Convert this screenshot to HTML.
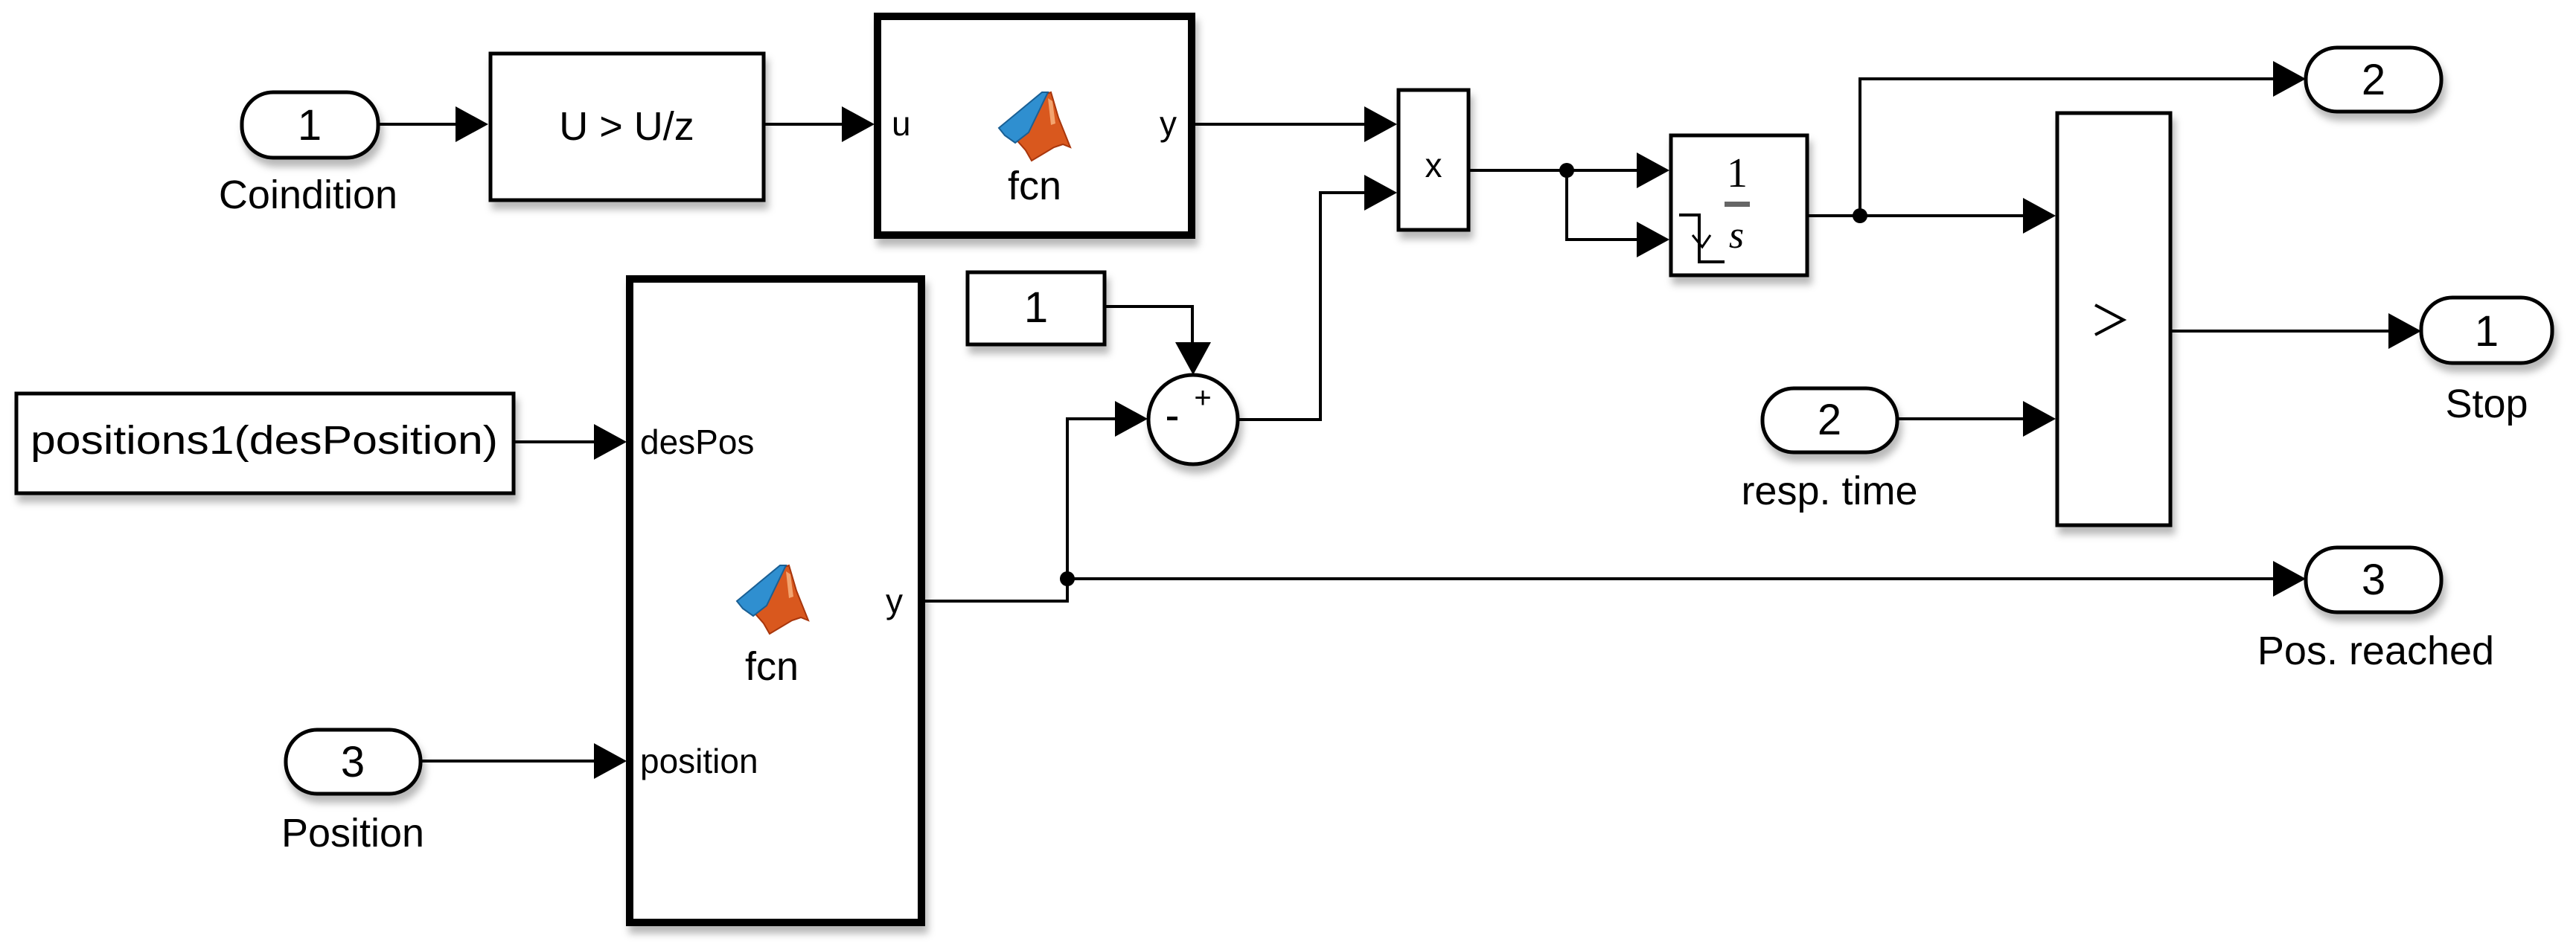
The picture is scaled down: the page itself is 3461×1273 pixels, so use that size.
<!DOCTYPE html>
<html><head><meta charset="utf-8"><style>
html,body{margin:0;padding:0;background:#fff;}
svg{display:block;}
text{font-family:"Liberation Sans",Arial,sans-serif;fill:#000;}
text.serif{font-family:"Liberation Serif",serif;}
</style></head><body>
<svg width="3461" height="1273" viewBox="0 0 3461 1273" xmlns="http://www.w3.org/2000/svg">
<defs>
<filter id="sh" x="-10%" y="-10%" width="130%" height="140%">
<feDropShadow dx="4" dy="10" stdDeviation="5" flood-color="#000" flood-opacity="0.28"/>
</filter>
<g id="ml">
<path d="M22,64 L64,4 L70,2 L80,36 L96,76 L86,72 L74,76 L44,94 L36,80 Z" fill="#d9581e" stroke="#a8360c" stroke-width="2"/>
<path d="M0,50 L58,2 L66,2 L40,56 L22,70 L8,60 Z" fill="#2f8fd0" stroke="#1a5f94" stroke-width="2"/>
<path d="M66,10 L72,14 L76,44 L70,46 Z" fill="#f3a46f"/>
</g>
</defs>
<rect width="3461" height="1273" fill="#fff"/>

<g fill="#fff" stroke="#000" stroke-width="5" filter="url(#sh)">
<rect x="325" y="124" width="183" height="88" rx="42"/>
<rect x="384" y="981" width="181" height="86" rx="42"/>
<rect x="2368" y="522" width="181" height="86" rx="42"/>
<rect x="3098" y="64" width="182" height="86" rx="42"/>
<rect x="3253" y="400" width="176" height="88" rx="42"/>
<rect x="3098" y="736" width="182" height="87" rx="42"/>
<rect x="659" y="72" width="367" height="197"/>
<rect x="1300" y="366" width="184" height="97"/>
<rect x="22" y="529" width="668" height="134"/>
<rect x="1879" y="121" width="94" height="188"/>
<rect x="2245" y="182" width="183" height="188"/>
<rect x="2764" y="152" width="152" height="554"/>
<circle cx="1603" cy="564" r="60"/>
</g>
<g fill="#fff" stroke="#000" stroke-width="10" filter="url(#sh)">
<rect x="1179" y="22" width="422" height="294"/>
<rect x="846" y="375" width="392" height="865"/>
</g>

<g fill="none" stroke="#000" stroke-width="4">
<path d="M508,167 H616"/>
<path d="M1026,167 H1135"/>
<path d="M1605,167 H1837"/>
<path d="M1484,412 H1602 V462"/>
<path d="M1664,564 H1774 V259 H1837"/>
<path d="M1973,229 H2203"/>
<path d="M2105,229 V322 H2203"/>
<path d="M2428,290 H2722"/>
<path d="M2499,290 V106 H3058"/>
<path d="M2916,445 H3213"/>
<path d="M2549,563 H2722"/>
<path d="M690,594 H802"/>
<path d="M565,1023 H802"/>
<path d="M1241,808 H1434 V563 H1502"/>
<path d="M1434,778 H3058"/>
</g>
<g fill="#000">
<path d="M612,143 L656,167 L612,191 Z"/>
<path d="M1131,143 L1175,167 L1131,191 Z"/>
<path d="M1833,143 L1877,167 L1833,191 Z"/>
<path d="M1833,235 L1877,259 L1833,283 Z"/>
<path d="M2199,205 L2243,229 L2199,253 Z"/>
<path d="M2199,298 L2243,322 L2199,346 Z"/>
<path d="M2718,266 L2762,290 L2718,314 Z"/>
<path d="M2718,539 L2762,563 L2718,587 Z"/>
<path d="M3054,82 L3098,106 L3054,130 Z"/>
<path d="M3209,421 L3253,445 L3209,469 Z"/>
<path d="M3054,754 L3098,778 L3054,802 Z"/>
<path d="M798,570 L842,594 L798,618 Z"/>
<path d="M798,999 L842,1023 L798,1047 Z"/>
<path d="M1498,539 L1542,563 L1498,587 Z"/>
<path d="M1579,460 L1603,504 L1627,460 Z"/>
<circle cx="2105" cy="229" r="10"/>
<circle cx="2499" cy="290" r="10"/>
<circle cx="1434" cy="778" r="10"/>
</g>

<g font-size="58" text-anchor="middle">
<text x="416" y="188">1</text>
<text x="474" y="1044">3</text>
<text x="2458" y="584">2</text>
<text x="3189" y="127">2</text>
<text x="3341" y="465">1</text>
<text x="3189" y="799">3</text>
<text x="1392" y="433">1</text>
</g>
<g font-size="54" text-anchor="middle">
<text x="414" y="280">Coindition</text>
<text x="474" y="1138">Position</text>
<text x="2458" y="678">resp. time</text>
<text x="3341" y="561">Stop</text>
<text x="3192" y="893">Pos. reached</text>
<text x="842" y="188">U &gt; U/z</text>
<text x="355" y="610" textLength="628" lengthAdjust="spacingAndGlyphs">positions1(desPosition)</text>
<text x="1390" y="268">fcn</text>
<text x="1037" y="914">fcn</text>
<text x="1926" y="238" font-size="46">x</text>
</g>
<g font-size="46">
<text x="1198" y="182">u</text>
<text x="1558" y="182">y</text>
<text x="860" y="610">desPos</text>
<text x="860" y="1039">position</text>
<text x="1190" y="824">y</text>
</g>
<path d="M2815,410 L2853,430 L2815,450" fill="none" stroke="#000" stroke-width="4"/>
<text class="serif" x="2334" y="251" font-size="56" text-anchor="middle">1</text>
<rect x="2317" y="271" width="34" height="7" fill="#666"/>
<text class="serif" x="2333" y="333" font-size="52" text-anchor="middle" font-style="italic">s</text>
<path d="M2256,289 H2283 V352 H2317" fill="none" stroke="#000" stroke-width="4"/>
<path d="M2274,316 L2287,332 L2298,316" fill="none" stroke="#000" stroke-width="3"/>
<text x="1616" y="548" font-size="40" text-anchor="middle">+</text>
<rect x="1568" y="560" width="14" height="5" fill="#000"/>
<use href="#ml" x="1342" y="122"/>
<use href="#ml" x="990" y="758"/>
</svg>
</body></html>
